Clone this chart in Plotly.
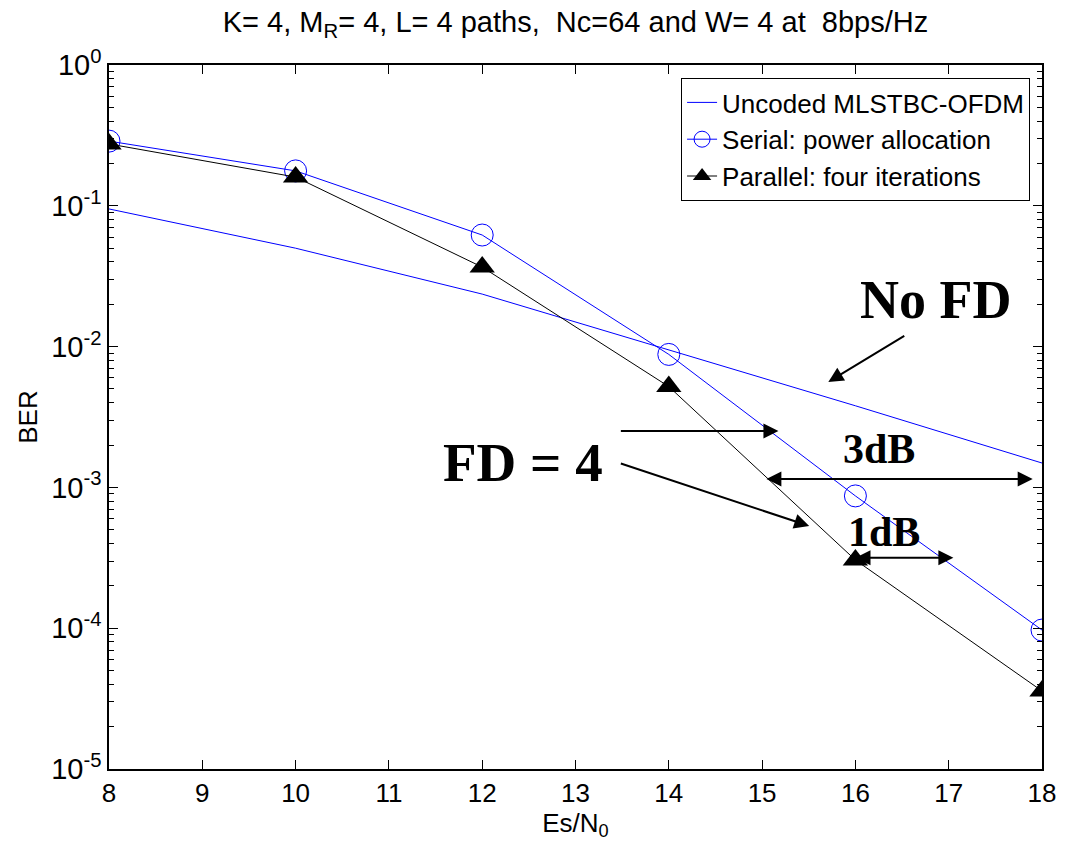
import plotly.graph_objects as go

snr = [8, 10, 12, 14, 16, 18]
ber_uncoded = [0.095, 0.050, 0.0236, 0.0095, 0.0038, 0.00149]
ber_serial = [0.288, 0.177, 0.062, 0.0088, 0.00087, 0.000097]
ber_parallel = [0.275, 0.160, 0.0367, 0.0052, 0.000305, 0.0000358]

x_ticks = list(range(8, 19))
y_tickvals = [1, 1e-1, 1e-2, 1e-3, 1e-4, 1e-5]
y_ticktext = ["10<sup>0</sup>", "10<sup>-1</sup>", "10<sup>-2</sup>", "10<sup>-3</sup>",
              "10<sup>-4</sup>", "10<sup>-5</sup>"]

names = ["Uncoded MLSTBC-OFDM", "Serial: power allocation", "Parallel: four iterations"]

sans = "Liberation Sans, Arial, sans-serif"
narrow = "Liberation Sans Narrow, Liberation Sans, Arial, sans-serif"
serif = "Liberation Serif, Times New Roman, serif"

fig = go.Figure()
fig.add_trace(go.Scatter(x=snr, y=ber_uncoded, mode="lines", name=names[0],
                         line=dict(color="#0000FF", width=1)))
fig.add_trace(go.Scatter(x=snr, y=ber_serial, mode="lines+markers", name=names[1],
                         line=dict(color="#0000FF", width=1),
                         marker=dict(symbol="circle-open", size=22, color="#0000FF",
                                     line=dict(width=1, color="#0000FF"))))
fig.add_trace(go.Scatter(x=snr, y=ber_parallel, mode="lines+markers", name=names[2],
                         line=dict(color="black", width=1),
                         marker=dict(symbol="triangle-up", size=22, color="black")))

plot_w = 1068 - 109 - 21
plot_h = 848 - 65 - 79

fig.update_layout(
    width=1068, height=848,
    margin=dict(l=109, r=21, t=65, b=79),
    paper_bgcolor="white", plot_bgcolor="white",
    font=dict(family=sans, size=22, color="black"),
    showlegend=True,
    title=dict(text="K= 4, M<sub>R</sub>= 4, L= 4 paths,  Nc=64 and W= 4 at  8bps/Hz",
               x=0.5, xanchor="center", xref="paper", y=0.974, yanchor="middle",
               yref="container",
               font=dict(family=sans, size=29, color="black")),
    xaxis=dict(range=[8, 18], tickvals=x_ticks, ticks="inside", ticklen=9,
               tickcolor="black", showline=True, linecolor="black", linewidth=1.5,
               mirror="ticks", showgrid=False, zeroline=False,
               tickfont=dict(family=narrow, size=26),
               title=dict(text="Es/N<sub>0</sub>", standoff=0,
                          font=dict(family=narrow, size=26))),
    yaxis=dict(type="log", range=[-5, 0], tickvals=y_tickvals, ticktext=y_ticktext,
               ticks="inside", ticklen=9, tickcolor="black", showline=True,
               linecolor="black", linewidth=1.5, mirror="ticks", showgrid=False,
               zeroline=False, tickfont=dict(family=sans, size=29),
               minor=dict(ticks="inside", ticklen=5, tickcolor="black", dtick="D1",
                          showgrid=False),
               title=dict(text="BER", standoff=6, font=dict(family=narrow, size=26))),
    legend=dict(
        x=(1035 - 109) / plot_w, y=1 - (78 - 65) / plot_h, xanchor="right", yanchor="top",
        bgcolor="white", bordercolor="black", borderwidth=1,
        font=dict(family=sans, size=26, color="black"),
        itemwidth=30, tracegroupgap=0),
)

ann = []
def txt(x, y, s, size):
    ann.append(dict(x=x, y=y, xref="x", yref="y", text=s, showarrow=False,
                    font=dict(family=serif, size=size, color="black"),
                    xanchor="center", yanchor="middle"))

def arrow(x0, y0, x1, y1, both=False):
    ann.append(dict(x=x1, y=y1, ax=x0, ay=y0, xref="x", yref="y", axref="x", ayref="y",
                    text="", showarrow=True, arrowhead=2, arrowsize=1.5, arrowwidth=2,
                    arrowcolor="black", arrowside="end+start" if both else "end",
                    standoff=0, startstandoff=0))

txt(16.86, -1.669, "<b>No FD</b>", 54)
arrow(16.54, -1.918, 15.71, -2.251)
txt(12.435, -2.82, "<b>FD = 4</b>", 55)
arrow(13.47, -2.60, 15.175, -2.60)
arrow(13.47, -2.827, 15.505, -3.274)
txt(16.25, -2.727, "<b>3dB</b>", 42)
arrow(15.03, -2.94, 17.90, -2.94, both=True)
txt(16.305, -3.317, "<b>1dB</b>", 42)
arrow(15.985, -3.50, 17.05, -3.50, both=True)

fig.update_layout(annotations=ann)
fig.write_html("out.html")
